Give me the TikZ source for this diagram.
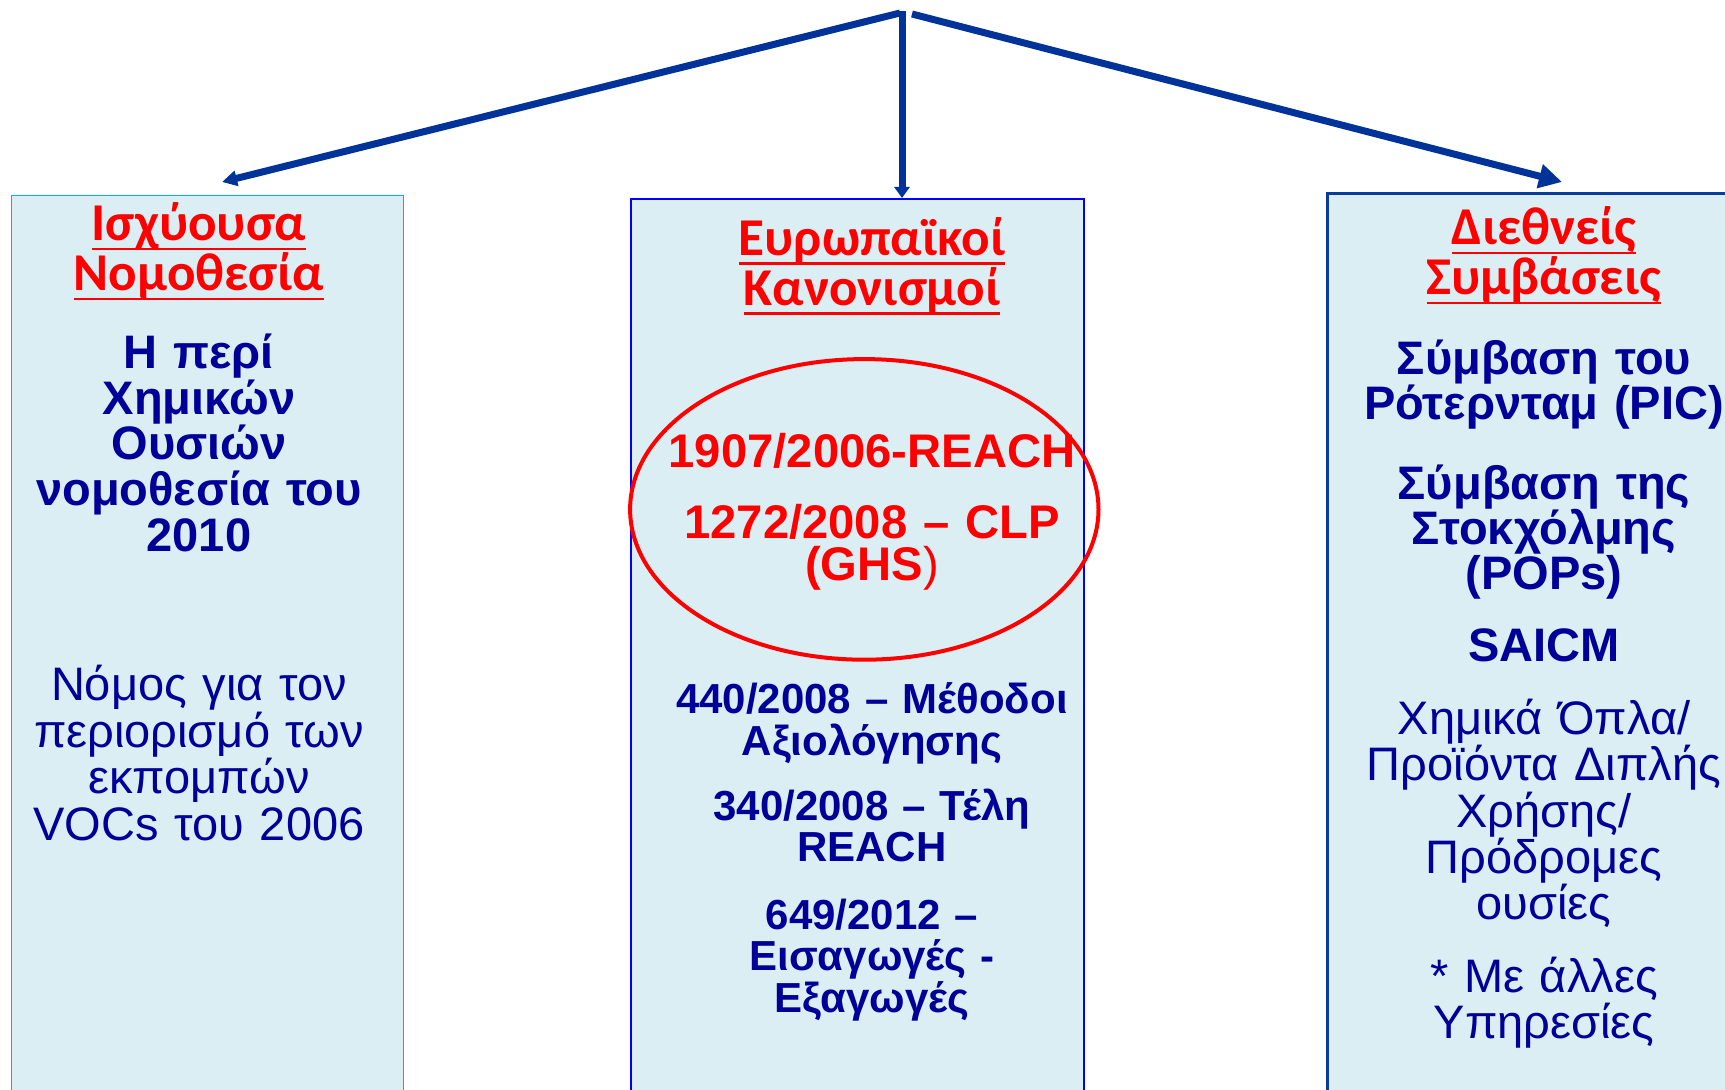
\documentclass[tikz,border=0pt]{standalone}
\usepackage{fontspec}
\setmainfont{Liberation Sans}
\newfontfamily\titlefont{Carlito}
\usetikzlibrary{arrows.meta}
\definecolor{boxfill}{HTML}{DAEEF3}
\definecolor{arrowblue}{HTML}{003399}
\definecolor{navytext}{HTML}{000099}
\definecolor{cyanborder}{HTML}{00B0F0}
\definecolor{midborder}{HTML}{0000FF}
\definecolor{rightborder}{HTML}{0A3C9C}
\definecolor{titlered}{HTML}{FF0000}
\newcommand{\ttlul}[1]{\leavevmode\setbox0\hbox{#1}\rlap{\rule[-4.6pt]{\wd0}{1.3pt}}\box0}
\tikzset{
  panel/.style={fill=boxfill, draw=#1, inner sep=0pt, anchor=north west},
  conn/.style={draw=arrowblue, line width=3.5pt},
  txt/.style={inner sep=0pt, anchor=base, align=center, text width=240pt},
  ttl/.style={txt, text=titlered, font=\titlefont\bfseries\fontsize{26.6}{25}\selectfont},
  bodyb/.style={txt, text=navytext, font=\bfseries\fontsize{23.5}{#1}\selectfont},
  bodyr/.style={txt, text=navytext, font=\fontsize{23.5}{#1}\selectfont},
  redb/.style={txt, text=titlered, font=\bfseries\fontsize{23.6}{20.9}\selectfont},
  smallb/.style={txt, text=navytext, font=\bfseries\fontsize{21}{20.75}\selectfont},
}
\begin{document}
\begin{tikzpicture}[x=0.5pt,y=-0.5pt]
\useasboundingbox (0,0) rectangle (1725,1090);
\clip (0,0) rectangle (1725,1090);
% panels
\node[panel=cyanborder, line width=0.7pt, minimum width=196pt, minimum height=460pt] (leftbox) at (11,195) {};
\node[panel=midborder, line width=1pt, minimum width=226.75pt, minimum height=460pt] (midbox) at (629.5,198) {};
\node[panel=rightborder, line width=1.3pt, minimum width=210pt, minimum height=460pt] (rightbox) at (1326,192) {};
% connectors
\coordinate (apexL) at (900,13);
\coordinate (apexM) at (902,11);
\coordinate (apexR) at (912,14);
\coordinate (tipL) at (222,182);
\coordinate (tipR) at (1562,182);
\draw[conn, -{Triangle[length=7.5pt,width=7.5pt]}] (apexL) -- (tipL);
\draw[conn, -{Triangle[length=5.5pt,width=7.5pt]}] (apexM) -- (apexM |- midbox.north);
\draw[conn, -{Triangle[length=11.5pt,width=11.7pt]}] (apexR) -- (tipR);
% ellipse
\draw[titlered, line width=2pt] (864.3,509.4) ellipse [x radius=234.2, y radius=150.3];
% left texts
\node[ttl] (lt) at (199,241) {\ttlul{Ισχύουσα}\\\ttlul{Νομοθεσία}};
\node[bodyb=22.85] (lb1) at (199,368.6) {Η περί\\Χημικών\\Ουσιών\\νομοθεσία του\\2010};
\node[bodyr=23.25] (lb2) at (199,701) {Νόμος για τον\\περιορισμό των\\εκπομπών\\VOCs του 2006};
% middle texts
\node[ttl] (mt) at (872,255.4) {\ttlul{Ευρωπαϊκοί}\\\ttlul{Κανονισμοί}};
\node[redb] (mr1) at (872,467.3) {1907/2006-REACH};
\node[redb] (mr2) at (872,538.7) {1272/2008 – CLP\\(GHS{\mdseries )}};
\node[smallb] (mb1) at (872,714) {440/2008 – Μέθοδοι\\Αξιολόγησης};
\node[smallb] (mb2) at (872,820) {340/2008 – Τέλη\\REACH};
\node[smallb] (mb3) at (872,929) {649/2012 –\\Εισαγωγές -\\Εξαγωγές};
% right texts
\node[ttl] (rt) at (1544,245) {\ttlul{Διεθνείς}\\\ttlul{Συμβάσεις}};
\node[bodyb=22.65] (rb1) at (1544,374.4) {Σύμβαση του\\Ρότερνταμ (PIC)};
\node[bodyb=22.65] (rb2) at (1544,499.2) {Σύμβαση της\\Στοκχόλμης\\(POPs)};
\node[bodyb=22.65] (rb3) at (1544,661.7) {SAICM};
\node[bodyr=23.2] (rr1) at (1544,734.3) {Χημικά Όπλα/\\Προϊόντα Διπλής\\Χρήσης/\\Πρόδρομες\\ουσίες};
\node[bodyr=23.2] (rr2) at (1544,992.5) {* Με άλλες\\Υπηρεσίες};
\end{tikzpicture}
\end{document}
